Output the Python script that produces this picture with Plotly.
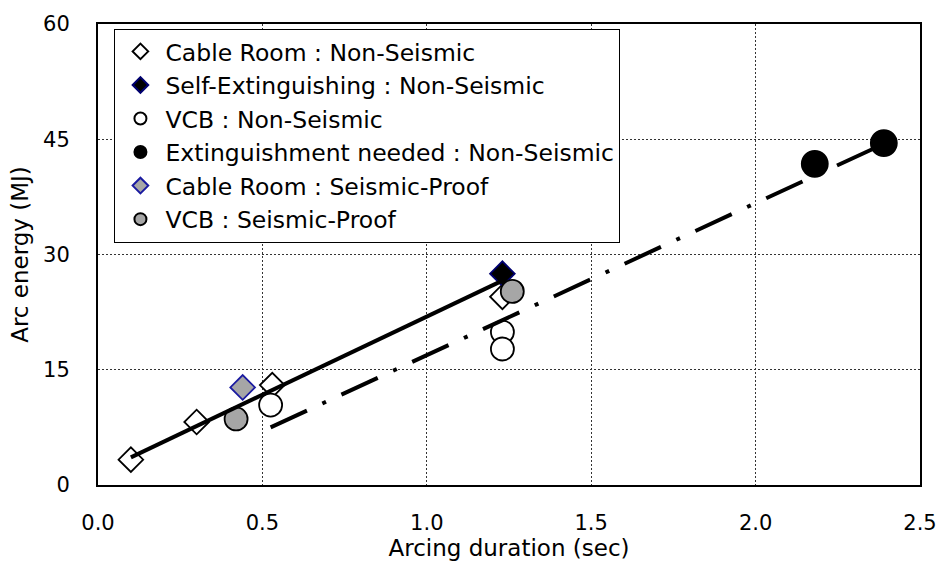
import plotly.graph_objects as go

# Arcing tests: duration (s) vs arc energy (MJ)
cable_ns_x = [0.10, 0.30, 0.53, 1.23]
cable_ns_y = [3.3, 8.2, 13.0, 24.5]

self_ext_x = [1.23]
self_ext_y = [27.5]

vcb_ns_x = [0.525, 1.23, 1.23]
vcb_ns_y = [10.4, 19.9, 17.7]

ext_needed_x = [2.18, 2.39]
ext_needed_y = [41.8, 44.5]

cable_sp_x = [0.44]
cable_sp_y = [12.7]

vcb_sp_x = [0.42, 1.26]
vcb_sp_y = [8.6, 25.2]

# Trend lines (end points)
trend_self_x = [0.10, 1.23]
trend_self_y = [3.6, 26.6]
trend_ext_x = [0.525, 2.39]
trend_ext_y = [7.5, 44.4]

x_ticks = [0.0, 0.5, 1.0, 1.5, 2.0, 2.5]
x_tick_labels = ["0.0", "0.5", "1.0", "1.5", "2.0", "2.5"]
y_ticks = [0, 15, 30, 45, 60]

FONT = "DejaVu Sans"

fig = go.Figure()

def add_points(name, xs, ys, symbol, size, fill, line_color, line_width=1.8):
    fig.add_trace(go.Scatter(
        x=xs, y=ys, mode="markers", name=name,
        marker=dict(symbol=symbol, size=size, color=fill,
                    line=dict(color=line_color, width=line_width)),
    ))

add_points("Cable Room : Non-Seismic", cable_ns_x, cable_ns_y, "diamond", 19, "white", "black")
add_points("Self-Extinguishing : Non-Seismic", self_ext_x, self_ext_y, "diamond", 19, "black", "#000070")
add_points("VCB : Non-Seismic", vcb_ns_x, vcb_ns_y, "circle", 23, "white", "black")
add_points("Extinguishment needed : Non-Seismic", ext_needed_x, ext_needed_y, "circle", 26, "black", "black")
add_points("Cable Room : Seismic-Proof", cable_sp_x, cable_sp_y, "diamond", 19, "#A6A6A6", "#1A1AA0")
add_points("VCB : Seismic-Proof", vcb_sp_x, vcb_sp_y, "circle", 23, "#A6A6A6", "black")

fig.add_trace(go.Scatter(
    x=trend_self_x, y=trend_self_y, mode="lines", showlegend=False,
    line=dict(color="black", width=4), hoverinfo="skip",
))
fig.add_trace(go.Scatter(
    x=trend_ext_x, y=trend_ext_y, mode="lines", showlegend=False,
    line=dict(color="black", width=4, dash="40px,17px,4px,17px"), hoverinfo="skip",
))

axis_common = dict(
    showline=True, mirror=True, linecolor="black", linewidth=2,
    showgrid=True, gridcolor="#333333", gridwidth=1, griddash="2px,2px",
    zeroline=False, ticks="",
    tickfont=dict(family=FONT, size=21, color="black"),
)

fig.update_xaxes(
    range=[0, 2.5], tickvals=x_ticks, ticktext=x_tick_labels,
    ticklabelstandoff=18,
    title=dict(text="Arcing duration (sec)", font=dict(family=FONT, size=23, color="black"), standoff=5),
    **axis_common,
)
fig.update_yaxes(
    range=[0, 60], tickvals=y_ticks,
    ticklabelstandoff=22,
    title=dict(text="Arc energy (MJ)", font=dict(family=FONT, size=23, color="black"), standoff=8),
    **axis_common,
)

fig.update_layout(
    width=949, height=568,
    margin=dict(l=98, r=17, t=20, b=82),
    plot_bgcolor="white", paper_bgcolor="white",
    font=dict(family=FONT, color="black"),
    showlegend=True,
    legend=dict(
        x=0.020, y=0.99, xanchor="left", yanchor="top",
        bgcolor="white", bordercolor="black", borderwidth=1,
        font=dict(family=FONT, size=23.5, color="black"),
        itemsizing="constant", itemwidth=40,
    ),
)

fig.write_html("out.html")
